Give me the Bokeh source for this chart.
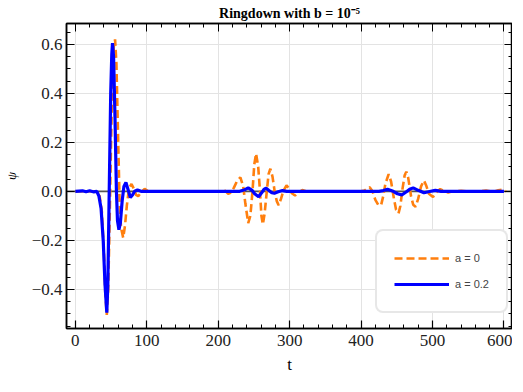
from bokeh.plotting import figure
from bokeh.models import Span, LinearAxis, CustomJSTickFormatter, Range1d
from bokeh.embed import file_html
from bokeh.resources import INLINE

# a = 0 (orange dashed)
t_a0 = [0, 20, 30, 34, 37, 40, 42, 44, 46, 48, 50, 52, 54, 55.6, 57.5, 60, 62, 64, 67, 69.5,
        72, 75, 78.6, 82, 85, 88, 92, 97, 102, 110, 205, 210, 214, 218, 222, 226, 231, 235,
        238, 242, 245, 248, 250.5, 253, 256, 258.5, 260.5, 262.5, 265, 268, 270.5, 273, 276,
        279, 282, 284.6, 288, 291, 295.6, 300, 303, 307.6, 312, 317.7, 323, 400, 405, 409, 412,
        416, 420, 424, 428, 431, 434, 438.6, 442, 446, 449, 452.4, 455, 458, 461, 463.4, 466,
        470, 473, 476.3, 480, 484, 488, 491, 495, 500.7, 505, 510.8, 516, 522, 528, 540, 560,
        575, 585, 592, 598, 603]
psi_a0 = [0, 0, -0.003, -0.02, -0.08, -0.25, -0.42, -0.505, -0.40, -0.12, 0.2, 0.48, 0.6, 0.62,
          0.52, 0.2, -0.05, -0.15, -0.19, -0.14, -0.06, 0.01, 0.03, 0.01, -0.015, -0.02, -0.005,
          0.01, 0.0, 0.0, 0.0, 0.002, -0.01, -0.005, 0.015, 0.04, 0.057, 0.02, -0.05, -0.13,
          -0.10, 0.0, 0.11, 0.154, 0.10, 0.0, -0.10, -0.135, -0.09, 0.0, 0.07, 0.092, 0.06, 0.0,
          -0.04, -0.057, -0.03, 0.0, 0.024, 0.01, -0.008, -0.017, -0.005, 0.005, 0.0, 0.0, 0.003,
          0.012, 0.017, 0.0, -0.035, -0.055, -0.057, -0.02, 0.03, 0.07, 0.04, -0.03, -0.075,
          -0.09, -0.06, 0.01, 0.065, 0.08, 0.055, -0.02, -0.055, -0.063, -0.03, 0.02, 0.044,
          0.025, -0.01, -0.023, -0.005, 0.009, 0.002, -0.005, 0.0, 0.002, -0.002, 0.003, -0.003,
          0.004, 0.007, 0.0]

# a = 0.2 (blue solid)
t_a02 = [0, 10, 15, 20, 25, 30, 33, 36, 39, 41.5, 44, 45.5, 47.4, 49.5, 51, 52, 53.5, 55.5,
         57.5, 59, 61, 63, 65.5, 68, 70.8, 73.5, 77, 80, 83, 87, 92, 230, 236, 242, 247, 251,
         256.6, 261, 264, 267, 271, 275, 278.6, 284, 290, 296, 425, 431, 437, 445, 451, 457,
         463, 468, 473, 480, 488, 496, 504, 512, 600]
psi_a02 = [0, 0.002, -0.002, 0.002, -0.002, 0.0, -0.02, -0.07, -0.2, -0.38, -0.495, -0.38, 0.0,
           0.4, 0.56, 0.605, 0.55, 0.3, 0.0, -0.12, -0.157, -0.13, -0.04, 0.02, 0.036, 0.01,
           -0.025, -0.015, 0.0, 0.005, 0.0, 0.0, 0.005, 0.014, 0.005, -0.01, -0.022, -0.005,
           0.008, 0.013, 0.003, -0.006, -0.008, -0.002, 0.003, 0.0, 0.0, 0.003, 0.008, 0.0,
           -0.01, -0.015, -0.003, 0.008, 0.014, 0.004, -0.006, -0.001, 0.004, 0.0, 0.0]

labels = ["a = 0", "a = 0.2"]
title = "Ringdown with b = 10\u207b\u2075"

SERIF = "Liberation Serif"

p = figure(width=512, height=376, output_backend="svg", toolbar_location=None,
           x_range=Range1d(-12.4, 612), y_range=Range1d(-0.56, 0.685),
           min_border_right=0, min_border_left=0, min_border_top=0, min_border_bottom=0)

p.title.text = title
p.title.text_font = SERIF
p.title.text_font_size = "14px"
p.title.text_font_style = "bold"
p.title.align = "center"
p.title.text_color = "black"
p.title.standoff = 6
p.title.offset = 0

fmt = CustomJSTickFormatter(code="""
if (Math.abs(tick) < 1e-9) { return '0.0'; }
return tick.toFixed(1).replace('-', '\u2212');
""")
xfmt = CustomJSTickFormatter(code="""
if (Math.abs(tick) < 1e-9) { return '0'; }
return tick.toFixed(0).replace('-', '\u2212');
""")
blank = CustomJSTickFormatter(code="return '';")

p.xaxis.formatter = xfmt
p.yaxis.formatter = fmt
p.xaxis.ticker.desired_num_ticks = 7
p.yaxis.ticker.desired_num_ticks = 6

for ax in [p.xaxis[0], p.yaxis[0]]:
    ax.major_tick_in = 8
    ax.major_tick_out = 0
    ax.minor_tick_in = 4
    ax.minor_tick_out = 0
    ax.axis_line_color = "black"
    ax.axis_line_width = 1.5
    ax.major_tick_line_color = "black"
    ax.minor_tick_line_color = "black"
    ax.major_tick_line_width = 1.2
    ax.minor_tick_line_width = 1.0
    ax.major_label_text_font = SERIF
    ax.major_label_text_font_size = "17px"
    ax.major_label_text_color = "#222222"
    ax.axis_label_text_font = SERIF
    ax.axis_label_text_font_style = "normal"
    ax.axis_label_text_color = "black"

p.xaxis.axis_label = "t"
p.xaxis.axis_label_text_font_size = "17px"
p.xaxis.major_label_standoff = 6
p.xaxis.axis_label_standoff = 6
p.xaxis.ticker.num_minor_ticks = 5

p.yaxis.axis_label = "\u03c8"
p.yaxis.axis_label_text_font_size = "13px"
p.yaxis.axis_label_text_font_style = "italic"
p.yaxis.major_label_standoff = 4
p.yaxis.axis_label_standoff = 10
p.yaxis.ticker.num_minor_ticks = 4

# mirrored axes (ticks only)
top = LinearAxis(ticker=p.xaxis[0].ticker, formatter=blank,
                 major_label_standoff=0, major_tick_in=8, major_tick_out=0,
                 minor_tick_in=4, minor_tick_out=0, axis_line_width=1.5,
                 major_label_text_font_size="1px")
right = LinearAxis(ticker=p.yaxis[0].ticker, formatter=blank,
                   major_label_standoff=0, major_tick_in=8, major_tick_out=0,
                   minor_tick_in=4, minor_tick_out=0, axis_line_width=1.5,
                   major_label_text_font_size="1px")
p.add_layout(top, "above")
p.add_layout(right, "right")

p.grid.grid_line_color = "#e3e3e3"
p.grid.grid_line_width = 1
p.outline_line_color = "black"
p.outline_line_width = 1.5

zero = Span(location=0, dimension="width", line_color="#555555", line_width=1.8, level="underlay")
p.add_layout(zero)

p.line(t_a0, psi_a0, line_color="#ff7f0e", line_width=2.6, line_dash="8 4",
       legend_label=labels[0])
p.line(t_a02, psi_a02, line_color="#0000ff", line_width=3.2, legend_label=labels[1])

lg = p.legend[0]
lg.location = (309, 15)
lg.label_text_font = "Liberation Sans"
lg.label_text_font_size = "11px"
lg.glyph_width = 55
lg.glyph_height = 20
lg.label_height = 20
lg.spacing = 6
lg.padding = 17
lg.margin = 0
lg.label_standoff = 6
lg.border_line_color = "#d0d0d0"
lg.border_line_width = 2
lg.border_radius = 8
lg.background_fill_color = "white"
lg.background_fill_alpha = 1

open("out.html", "w").write(file_html(p, INLINE))
